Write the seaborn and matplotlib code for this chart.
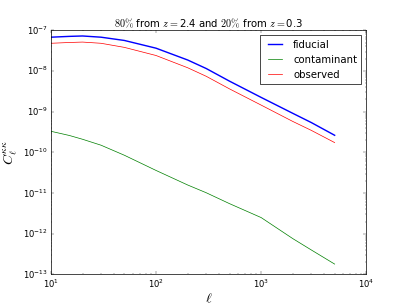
import matplotlib
matplotlib.use("Agg")
import matplotlib.pyplot as plt
import seaborn as sns
import pandas as pd

ell = [10, 15, 20, 30, 50, 100, 200, 300, 500, 1000, 2000, 3000, 5000]
fiducial = [6.76e-8, 7.08e-8, 7.24e-8, 6.76e-8, 5.62e-8, 3.63e-8, 1.86e-8, 1.15e-8,
            5.62e-9, 2.24e-9, 9.1e-10, 5.4e-10, 2.63e-10]
contaminant = [3.3e-10, 2.6e-10, 2.1e-10, 1.5e-10, 8.5e-11, 3.6e-11, 1.58e-11,
               1.02e-11, 5.5e-12, 2.5e-12, 7.6e-13, 4.0e-13, 1.8e-13]
observed = [4.79e-8, 5.01e-8, 5.13e-8, 4.79e-8, 3.80e-8, 2.40e-8, 1.20e-8, 7.41e-9,
            3.63e-9, 1.45e-9, 5.75e-10, 3.47e-10, 1.74e-10]

series = {"fiducial": fiducial, "contaminant": contaminant, "observed": observed}
colors = {"fiducial": "#0000ff", "contaminant": "#008000", "observed": "#ff0000"}
widths = {"fiducial": 2.0, "contaminant": 1.0, "observed": 1.0}

plt.style.use("classic")
fig = plt.figure(figsize=(8, 6), dpi=50.875, facecolor="white")
ax = fig.add_subplot(111)

for name, vals in series.items():
    df = pd.DataFrame({"ell": ell, "C": vals})
    sns.lineplot(data=df, x="ell", y="C", ax=ax, color=colors[name],
                 linewidth=widths[name], label=name, sort=True)

ax.set_xscale("log")
ax.set_yscale("log")
ax.set_xlim(10, 1e4)
ax.set_ylim(1e-13, 1e-7)
ax.tick_params(labelsize=12)
ax.set_xlabel(r"$\ell$", fontsize=20, labelpad=2)
ax.set_ylabel(r"$C_\ell^{\kappa\kappa}$", fontsize=20)
ax.set_title(r"$80\%$ from $z=$2.4 and $20\%$ from $z=$0.3", fontsize=14.4)
ax.legend(loc="upper right", fontsize=14.4)

fig.savefig("out.png", dpi=50.875, facecolor="white")
